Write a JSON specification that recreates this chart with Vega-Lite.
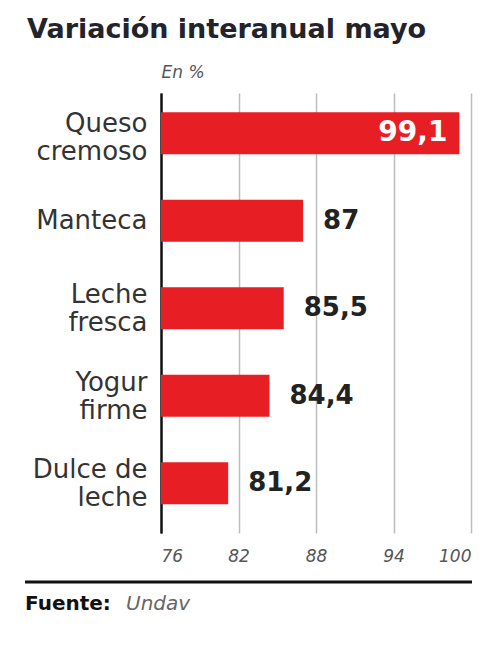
{
  "$schema": "https://vega.github.io/schema/vega-lite/v6.json",
  "background": "white",
  "padding": {"left": 23, "top": 16, "right": 5, "bottom": 5},
  "config": {
    "view": {"stroke": null},
    "font": "DejaVu Sans",
    "locale": {"number": {"decimal": ",", "thousands": ".", "grouping": [3], "currency": ["$", ""]}}
  },
  "spacing": 16,
  "vconcat": [
    {
      "title": {"text": "Variación interanual mayo", "anchor": "start", "frame": "group", "fontSize": 27, "fontWeight": "bold", "color": "#23232b", "offset": 19, "dx": 2},
      "width": 447,
      "height": 440,
      "data": {"values": [
        {"producto": "Queso cremoso", "valor": 99.1},
        {"producto": "Manteca", "valor": 87},
        {"producto": "Leche fresca", "valor": 85.5},
        {"producto": "Yogur firme", "valor": 84.4},
        {"producto": "Dulce de leche", "valor": 81.2}
      ]},
      "encoding": {
        "y": {
          "field": "producto", "type": "nominal", "sort": null,
          "scale": {"paddingInner": 0.52, "paddingOuter": 0.274, "align": 0.4},
          "axis": {
            "title": null, "offset": -136, "domain": true, "domainColor": "#111", "domainWidth": 2,
            "ticks": false, "labelFontSize": 26, "labelColor": "#333", "labelPadding": 14,
            "labelLineHeight": 28, "labelLimit": 220, "labelBaseline": "middle",
            "labelOffset": {"condition": [
              {"test": "datum.label == 'Manteca'", "value": 0},
              {"test": "datum.label == 'Queso cremoso'", "value": -9}
            ], "value": -13},
            "labelExpr": "datum.label == 'Dulce de leche' ? ['Dulce de', 'leche'] : split(datum.label, ' ')"
          }
        }
      },
      "layer": [
        {
          "mark": {"type": "bar", "color": "#e81e25"},
          "encoding": {
            "x": {
              "field": "valor", "type": "quantitative",
              "scale": {"domain": [76, 100], "range": [136, 446], "nice": false, "zero": false},
              "axis": {
                "orient": "bottom", "values": [76, 82, 88, 94, 100], "grid": true,
                "gridColor": {"condition": {"test": "datum.value == 76", "value": "#111"}, "value": "#bdbdbd"},
                "gridWidth": {"condition": {"test": "datum.value == 76", "value": 2}, "value": 1.5},
                "domain": false, "ticks": false,
                "labelFontSize": 17, "labelFontStyle": "italic", "labelColor": "#555",
                "labelPadding": 15, "title": null
              }
            },
            "x2": {"datum": 76}
          }
        },
        {
          "transform": [{"filter": "datum.valor < 95"}],
          "mark": {"type": "text", "align": "left", "baseline": "middle", "dx": 20, "fontSize": 26, "fontWeight": "bold", "color": "#222"},
          "encoding": {
            "x": {
              "field": "valor", "type": "quantitative",
              "axis": {
                "orient": "top", "labels": false, "ticks": false, "domain": false, "grid": false,
                "title": "En %", "titleAnchor": "start", "titleAlign": "left", "titleFontSize": 17,
                "titleFontStyle": "italic", "titleFontWeight": "normal", "titleColor": "#555", "titlePadding": 12
              }
            },
            "text": {"field": "valor", "type": "quantitative", "format": ".1~f"}
          }
        },
        {
          "transform": [{"filter": "datum.valor >= 95"}],
          "mark": {"type": "text", "align": "right", "baseline": "middle", "dx": -12, "fontSize": 28, "fontWeight": "bold", "color": "white"},
          "encoding": {
            "x": {"field": "valor", "type": "quantitative", "axis": null},
            "text": {"field": "valor", "type": "quantitative", "format": ".1~f"}
          }
        }
      ],
      "resolve": {"axis": {"x": "independent"}}
    },
    {
      "width": 447,
      "height": 44,
      "data": {"values": [{"parte": "Fuente:"}, {"parte": "Undav"}]},
      "layer": [
        {
          "transform": [{"filter": "datum.parte == 'Fuente:'"}],
          "mark": {"type": "rule", "color": "#111", "strokeWidth": 3},
          "encoding": {"y": {"datum": 1, "type": "quantitative", "scale": {"domain": [0, 1]}, "axis": null}}
        },
        {
          "transform": [{"filter": "datum.parte == 'Fuente:'"}],
          "mark": {"type": "text", "align": "left", "baseline": "middle", "fontSize": 20, "fontWeight": "bold", "color": "#111"},
          "encoding": {
            "x": {"field": "parte", "type": "nominal", "scale": {"type": "point", "domain": ["Fuente:", "Undav"], "range": [0, 101], "padding": 0}, "axis": null},
            "text": {"field": "parte"}
          }
        },
        {
          "transform": [{"filter": "datum.parte == 'Undav'"}],
          "mark": {"type": "text", "align": "left", "baseline": "middle", "fontSize": 20, "fontStyle": "italic", "color": "#666"},
          "encoding": {
            "x": {"field": "parte", "type": "nominal", "axis": null},
            "text": {"field": "parte"}
          }
        }
      ]
    }
  ]
}
